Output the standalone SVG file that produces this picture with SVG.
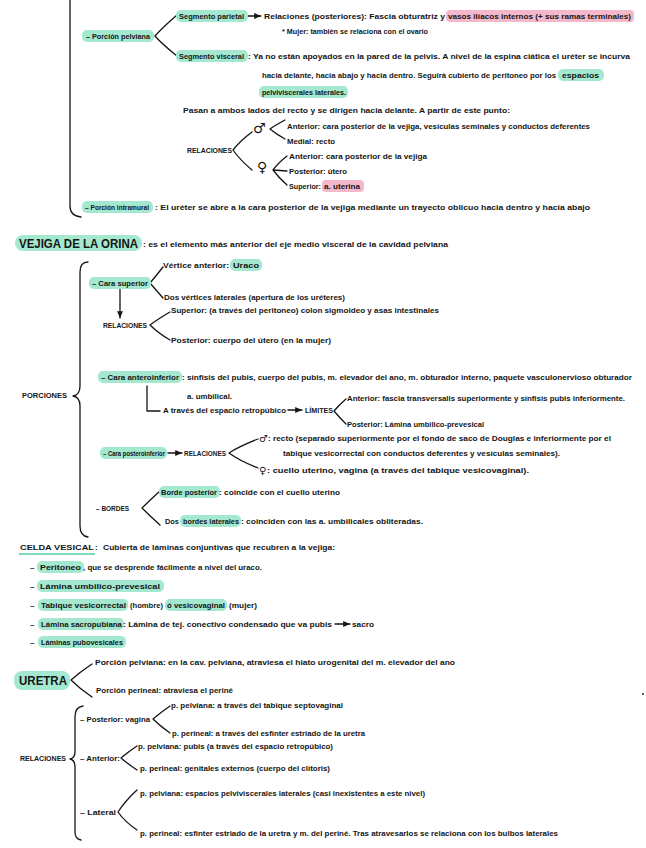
<svg xmlns="http://www.w3.org/2000/svg" width="646" height="848" viewBox="0 0 646 848">
<defs>
<style>
.t{font-family:"Liberation Sans",Arial,sans-serif;font-size:8px;font-weight:bold;fill:#151515}
.s{font-size:7px}
.xs{font-size:6.5px}
.h{font-family:"Liberation Sans",Arial,sans-serif;font-size:13px;font-weight:bold;fill:#151515}
.g{fill:#a4e8cf}
.p{fill:#f5b7ca}
.c{fill:none;stroke:#151515;stroke-width:1.3;stroke-linecap:round;stroke-linejoin:round}
.sym{font-family:"DejaVu Sans",sans-serif;font-size:14px;font-weight:bold;fill:#151515}
.sm{font-family:"DejaVu Sans",sans-serif;font-size:10px;font-weight:bold;fill:#151515}
</style>
<marker id="ah" viewBox="0 0 8 8" refX="7" refY="4" markerWidth="6" markerHeight="6" orient="auto">
<path d="M0,1 L7,4 L0,7 Z" fill="#151515"/>
</marker>
</defs>
<rect width="646" height="848" fill="#ffffff"/>

<g id="connectors">
<path class="c" d="M70,0 L70,206 Q70,216 81,217"/>
<path class="c" d="M177,15 Q162,28 155,36 Q162,44 177,56"/>
<path class="c" d="M247,16 L261,16" marker-end="url(#ah)"/>
<path class="c" d="M285,120 Q274,126 270,129 Q276,134 285,139"/>
<path class="c" d="M252,132 Q240,141 233,150 Q240,160 252,170"/>
<path class="c" d="M287,156 Q278,163 273,170 L287,171 M273,170 Q279,178 287,185"/>
<path class="c" d="M88,262 Q80,262 80,272 L80,386 Q80,395 73,396 Q80,397 80,406 L80,526 Q80,536 88,537"/>
<path class="c" d="M163,267 Q156,276 150,283 Q156,290 163,298"/>
<path class="c" d="M120,287 L120,318" marker-end="url(#ah)"/>
<path class="c" d="M170,312 Q158,319 150,325 Q158,333 170,340"/>
<path class="c" d="M147,386 L147,411 L160,411"/>
<path class="c" d="M288,410 L302,410" marker-end="url(#ah)"/>
<path class="c" d="M346,399 Q339,405 334,411 Q339,417 346,424"/>
<path class="c" d="M168,453 L182,453" marker-end="url(#ah)"/>
<path class="c" d="M258,439 Q238,447 229,453 Q240,461 258,468"/>
<path class="c" d="M160,491 Q150,500 142,508 Q150,516 160,525"/>
<path class="c" d="M335,624 L350,624" marker-end="url(#ah)"/>
<path class="c" d="M92,664 Q80,672 71,680 Q80,689 92,697"/>
<path class="c" d="M83,706 Q75,707 75,717 L75,752 Q75,758 70,759 Q75,760 75,767 L75,832 Q75,839 81,840"/>
<path class="c" d="M170,706 Q160,713 153,719 Q160,726 170,733"/>
<path class="c" d="M137,746 Q128,752 121,758 Q128,764 137,770"/>
<path class="c" d="M137,790 Q125,801 118,812 Q125,822 137,830"/>
<circle cx="643" cy="694" r="0.9" fill="#151515"/>
</g>

<g id="porcion-pelviana">
<rect class="g" x="82" y="30" width="72" height="12" rx="5"/>
<text class="t" x="86" y="39" textLength="64" lengthAdjust="spacingAndGlyphs">– Porción pelviana</text>
</g>

<g id="segmento-parietal">
<rect class="g" x="176" y="10" width="72" height="12" rx="5"/>
<text class="t" x="179" y="19" textLength="65" lengthAdjust="spacingAndGlyphs">Segmento parietal</text>
<text class="t" x="264" y="19" textLength="181" lengthAdjust="spacingAndGlyphs">Relaciones (posteriores): Fascia obturatriz y</text>
<rect class="p" x="446" y="10" width="188" height="12" rx="4"/>
<text class="t" x="448" y="19" textLength="183" lengthAdjust="spacingAndGlyphs">vasos ilíacos internos  (+ sus ramas terminales)</text>
<text class="t" x="282" y="34" textLength="146" lengthAdjust="spacingAndGlyphs">* Mujer: también se relaciona con el ovario</text>
</g>

<g id="segmento-visceral">
<rect class="g" x="176" y="50" width="72" height="12" rx="5"/>
<text class="t" x="179" y="59" textLength="65" lengthAdjust="spacingAndGlyphs">Segmento visceral</text>
<text class="t" x="248" y="59" textLength="382" lengthAdjust="spacingAndGlyphs">: Ya no están apoyados en la pared de la pelvis. A nivel de la espina ciática el uréter se incurva</text>
<text class="t" x="262" y="78" textLength="294" lengthAdjust="spacingAndGlyphs">hacia delante, hacia abajo y hacia dentro. Seguirá cubierto de peritoneo por los</text>
<rect class="g" x="558" y="69" width="46" height="12" rx="5"/>
<text class="t" x="562" y="78" textLength="37" lengthAdjust="spacingAndGlyphs">espacios</text>
<rect class="g" x="259" y="86" width="89" height="12" rx="5"/>
<text class="t" x="262" y="95" textLength="84" lengthAdjust="spacingAndGlyphs">pelviviscerales laterales.</text>
</g>

<g id="pasan">
<text class="t" x="183" y="113" textLength="327" lengthAdjust="spacingAndGlyphs">Pasan a ambos lados del recto y se dirigen hacia delante. A partir de este punto:</text>
</g>

<g id="relaciones-ureter">
<text class="t s" x="187" y="153" textLength="45" lengthAdjust="spacingAndGlyphs">RELACIONES</text>
<text class="sym" x="253" y="133">♂</text>
<text class="t" x="287" y="129" textLength="303" lengthAdjust="spacingAndGlyphs">Anterior: cara posterior de la vejiga, vesículas seminales y conductos deferentes</text>
<text class="t" x="287" y="144" textLength="48" lengthAdjust="spacingAndGlyphs">Medial: recto</text>
<text class="sym" x="257" y="172">♀</text>
<text class="t" x="289" y="159" textLength="138" lengthAdjust="spacingAndGlyphs">Anterior: cara posterior de la vejiga</text>
<text class="t" x="289" y="174" textLength="58" lengthAdjust="spacingAndGlyphs">Posterior: útero</text>
<text class="t" x="289" y="189" textLength="32" lengthAdjust="spacingAndGlyphs">Superior:</text>
<rect class="p" x="322" y="180" width="42" height="12" rx="4"/>
<text class="t" x="324" y="189" textLength="36" lengthAdjust="spacingAndGlyphs">a. uterina</text>
</g>

<g id="porcion-intramural">
<rect class="g" x="82" y="201" width="71" height="12" rx="5"/>
<text class="t xs" x="85" y="210" textLength="64" lengthAdjust="spacingAndGlyphs">– Porción intramural</text>
<text class="t" x="155" y="210" textLength="435" lengthAdjust="spacingAndGlyphs">: El uréter se abre a la cara posterior de la vejiga mediante un trayecto oblicuo hacia dentro y hacia abajo</text>
</g>

<g id="vejiga">
<rect class="g" x="15" y="235" width="127" height="16" rx="8"/>
<text class="h" x="19" y="248" textLength="119" lengthAdjust="spacingAndGlyphs">VEJIGA DE LA ORINA</text>
<text class="t" x="143" y="247" textLength="305" lengthAdjust="spacingAndGlyphs">: es el elemento más anterior del eje medio visceral de la cavidad pelviana</text>
</g>

<g id="porciones">
<text class="t" x="22" y="398" textLength="45" lengthAdjust="spacingAndGlyphs">PORCIONES</text>
</g>

<g id="cara-superior">
<rect class="g" x="89" y="277" width="62" height="12" rx="5"/>
<text class="t" x="92" y="286" textLength="56" lengthAdjust="spacingAndGlyphs">– Cara superior</text>
<text class="t" x="163" y="268" textLength="66" lengthAdjust="spacingAndGlyphs">Vértice anterior:</text>
<rect class="g" x="230" y="259" width="32" height="12" rx="5"/>
<text class="t" x="233" y="268" textLength="26" lengthAdjust="spacingAndGlyphs">Uraco</text>
<text class="t" x="164" y="300" textLength="181" lengthAdjust="spacingAndGlyphs">Dos vértices laterales (apertura de los uréteres)</text>
<text class="t s" x="103" y="328" textLength="44" lengthAdjust="spacingAndGlyphs">RELACIONES</text>
<text class="t" x="171" y="313" textLength="268" lengthAdjust="spacingAndGlyphs">Superior: (a través del peritoneo) colon sigmoideo y asas intestinales</text>
<text class="t" x="171" y="343" textLength="160" lengthAdjust="spacingAndGlyphs">Posterior: cuerpo del útero (en la mujer)</text>
</g>

<g id="cara-anteroinferior">
<rect class="g" x="98" y="371" width="84" height="12" rx="5"/>
<text class="t" x="101" y="380" textLength="78" lengthAdjust="spacingAndGlyphs">– Cara anteroinferior</text>
<text class="t" x="182" y="380" textLength="450" lengthAdjust="spacingAndGlyphs">: sínfisis del pubis, cuerpo del pubis, m. elevador del ano, m. obturador interno, paquete vasculonervioso obturador</text>
<text class="t" x="187" y="399" textLength="45" lengthAdjust="spacingAndGlyphs">a. umbilical.</text>
<text class="t" x="163" y="413" textLength="123" lengthAdjust="spacingAndGlyphs">A través del espacio retropúbico</text>
<text class="t s" x="305" y="413" textLength="28" lengthAdjust="spacingAndGlyphs">LÍMITES</text>
<text class="t" x="347" y="401" textLength="278" lengthAdjust="spacingAndGlyphs">Anterior: fascia transversalis superiormente y sínfisis pubis inferiormente.</text>
<text class="t" x="347" y="427" textLength="137" lengthAdjust="spacingAndGlyphs">Posterior: Lámina umbilico-prevesical</text>
</g>

<g id="cara-posteroinferior">
<rect class="g" x="100" y="447" width="67" height="12" rx="5"/>
<text class="t xs" x="103" y="456" textLength="62" lengthAdjust="spacingAndGlyphs">– Cara posteroinferior</text>
<text class="t s" x="184" y="456" textLength="42" lengthAdjust="spacingAndGlyphs">RELACIONES</text>
<text class="sm" x="259" y="442">♂</text>
<text class="t" x="268" y="441" textLength="343" lengthAdjust="spacingAndGlyphs">: recto (separado superiormente por el fondo de saco de Douglas e inferiormente por el</text>
<text class="t" x="283" y="456" textLength="277" lengthAdjust="spacingAndGlyphs">tabique vesicorrectal con conductos deferentes y vesículas seminales).</text>
<text class="sm" x="259" y="474">♀</text>
<text class="t" x="267" y="473" textLength="262" lengthAdjust="spacingAndGlyphs">: cuello uterino, vagina (a través del tabique vesicovaginal).</text>
</g>

<g id="bordes">
<text class="t" x="96" y="511" textLength="33" lengthAdjust="spacingAndGlyphs">– BORDES</text>
<rect class="g" x="159" y="486" width="61" height="12" rx="5"/>
<text class="t" x="161" y="495" textLength="56" lengthAdjust="spacingAndGlyphs">Borde posterior</text>
<text class="t" x="219" y="495" textLength="121" lengthAdjust="spacingAndGlyphs">: coincide con el cuello uterino</text>
<text class="t" x="165" y="524" textLength="14" lengthAdjust="spacingAndGlyphs">Dos</text>
<rect class="g" x="180" y="515" width="61" height="12" rx="5"/>
<text class="t" x="183" y="524" textLength="56" lengthAdjust="spacingAndGlyphs">bordes laterales</text>
<text class="t" x="241" y="524" textLength="182" lengthAdjust="spacingAndGlyphs">: coinciden con las a. umbilicales obliteradas.</text>
</g>

<g id="celda-vesical">
<text class="t" x="20" y="550" textLength="74" lengthAdjust="spacingAndGlyphs">CELDA VESICAL</text>
<text class="t" x="95" y="550">:</text>
<path d="M19,554 L95,554" stroke="#7fd9b8" stroke-width="2" fill="none"/>
<text class="t" x="103" y="550" textLength="232" lengthAdjust="spacingAndGlyphs">Cubierta de láminas conjuntivas que recubren a la vejiga:</text>
<text class="t" x="30" y="570">–</text>
<rect class="g" x="37" y="561" width="47" height="12" rx="5"/>
<text class="t" x="40" y="570" textLength="41" lengthAdjust="spacingAndGlyphs">Peritoneo</text>
<text class="t" x="83" y="570" textLength="179" lengthAdjust="spacingAndGlyphs">, que se desprende fácilmente a nivel del uraco.</text>
<text class="t" x="30" y="589">–</text>
<rect class="g" x="37" y="580" width="127" height="12" rx="5"/>
<text class="t" x="40" y="589" textLength="120" lengthAdjust="spacingAndGlyphs">Lámina umbilico-prevesical</text>
<text class="t" x="30" y="608">–</text>
<rect class="g" x="38" y="599" width="90" height="12" rx="5"/>
<text class="t" x="41" y="608" textLength="85" lengthAdjust="spacingAndGlyphs">Tabique vesicorrectal</text>
<text class="t" x="130" y="608" textLength="33" lengthAdjust="spacingAndGlyphs">(hombre)</text>
<rect class="g" x="165" y="599" width="62" height="12" rx="5"/>
<text class="t" x="167" y="608" textLength="58" lengthAdjust="spacingAndGlyphs">ó vesicovaginal</text>
<text class="t" x="229" y="608" textLength="28" lengthAdjust="spacingAndGlyphs">(mujer)</text>
<text class="t" x="30" y="627">–</text>
<rect class="g" x="38" y="618" width="86" height="12" rx="5"/>
<text class="t" x="41" y="627" textLength="81" lengthAdjust="spacingAndGlyphs">Lámina sacropubiana</text>
<text class="t" x="123" y="627" textLength="209" lengthAdjust="spacingAndGlyphs">: Lámina de tej. conectivo condensado que va pubis</text>
<text class="t" x="352" y="627" textLength="22" lengthAdjust="spacingAndGlyphs">sacro</text>
<text class="t" x="30" y="645">–</text>
<rect class="g" x="38" y="636" width="88" height="12" rx="5"/>
<text class="t" x="41" y="645" textLength="82" lengthAdjust="spacingAndGlyphs">Láminas pubovesicales</text>
</g>

<g id="uretra">
<rect class="g" x="14" y="671" width="56" height="19" rx="8"/>
<text class="h" x="19" y="685" textLength="48" lengthAdjust="spacingAndGlyphs">URETRA</text>
<text class="t" x="95" y="665" textLength="360" lengthAdjust="spacingAndGlyphs">Porción pelviana: en la cav. pelviana, atraviesa el hiato urogenital del m. elevador del ano</text>
<text class="t" x="96" y="693" textLength="137" lengthAdjust="spacingAndGlyphs">Porción perineal: atraviesa el periné</text>
</g>

<g id="relaciones-uretra">
<text class="t s" x="20" y="761" textLength="46" lengthAdjust="spacingAndGlyphs">RELACIONES</text>
<text class="t" x="80" y="722" textLength="70" lengthAdjust="spacingAndGlyphs">– Posterior: vagina</text>
<text class="t s" x="171" y="708" textLength="172" lengthAdjust="spacingAndGlyphs">p. pelviana: a través del tabique septovaginal</text>
<text class="t s" x="172" y="736" textLength="193" lengthAdjust="spacingAndGlyphs">p. perineal: a través del esfínter estriado de la uretra</text>
<text class="t" x="80" y="761" textLength="40" lengthAdjust="spacingAndGlyphs">– Anterior:</text>
<text class="t s" x="138" y="749" textLength="195" lengthAdjust="spacingAndGlyphs">p. pelviana: pubis (a través del espacio retropúbico)</text>
<text class="t s" x="140" y="771" textLength="190" lengthAdjust="spacingAndGlyphs">p. perineal: genitales externos (cuerpo del clítoris)</text>
<text class="t" x="80" y="815" textLength="36" lengthAdjust="spacingAndGlyphs">– Lateral</text>
<text class="t s" x="140" y="796" textLength="285" lengthAdjust="spacingAndGlyphs">p. pelviana: espacios pelviviscerales laterales (casi inexistentes a este nivel)</text>
<text class="t s" x="140" y="836" textLength="418" lengthAdjust="spacingAndGlyphs">p. perineal: esfínter estriado de la uretra y m. del periné. Tras atravesarlos se relaciona con los bulbos laterales</text>
</g>
</svg>
